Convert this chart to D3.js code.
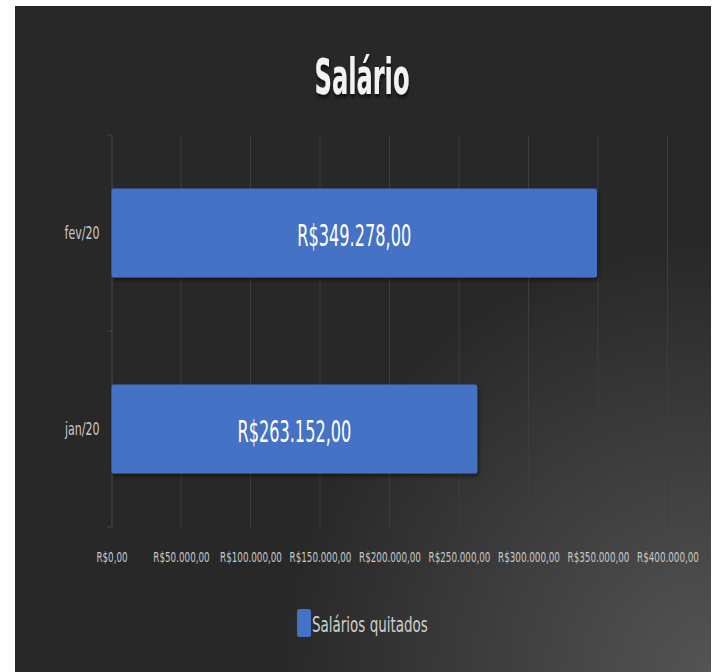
<!DOCTYPE html>
<html><head><meta charset="utf-8">
<script src="https://cdn.jsdelivr.net/npm/d3@7"></script>
<style>html,body{margin:0;padding:0;background:#fff;}svg{display:block;}</style>
</head><body>
<script>
const categories = ["fev/20", "jan/20"];
const values = [349278, 263152];
const valueLabels = ["R$349.278,00", "R$263.152,00"];
const tickValues = [0, 50000, 100000, 150000, 200000, 250000, 300000, 350000, 400000];
const tickLabels = ["R$0,00","R$50.000,00","R$100.000,00","R$150.000,00","R$200.000,00","R$250.000,00","R$300.000,00","R$350.000,00","R$400.000,00"];
const seriesName = "Salários quitados";
const title = "Salário";

const W = 717, H = 672;
const font = "'DejaVu Sans',sans-serif";
const svg = d3.select("body").append("svg").attr("width", W).attr("height", H);
const defs = svg.append("defs");
const grad = defs.append("radialGradient").attr("id","bg")
  .attr("gradientUnits","userSpaceOnUse").attr("cx",711).attr("cy",672).attr("r",430);
grad.append("stop").attr("offset","0").attr("stop-color","#545454");
grad.append("stop").attr("offset","1").attr("stop-color","#282828");
const sh = defs.append("filter").attr("id","sh").attr("x","-10%").attr("y","-10%").attr("width","130%").attr("height","140%");
sh.append("feDropShadow").attr("dx",1.5).attr("dy",2.5).attr("stdDeviation",2).attr("flood-color","#000").attr("flood-opacity",0.5);
const tsh = defs.append("filter").attr("id","tsh");
tsh.append("feDropShadow").attr("dx",1).attr("dy",3).attr("stdDeviation",2).attr("flood-color","#000").attr("flood-opacity",0.7);

// horizontally condense texts around their anchor x
function condense(sel, ratio) {
  sel.each(function() {
    const x0 = +(this.getAttribute("x") || 0);
    d3.select(this).attr("transform", `translate(${x0},0) scale(${ratio},1) translate(${-x0},0)`);
  });
}
function ratioFor(sel, refWidth) {
  let m = 0;
  sel.each(function() { m = Math.max(m, this.getComputedTextLength()); });
  return refWidth / m;
}

svg.append("rect").attr("x",15).attr("y",6).attr("width",696).attr("height",666).attr("fill","url(#bg)");

const x = d3.scaleLinear().domain([0, 400000]).range([111.5, 667.5]);
const y = d3.scaleBand().domain(categories).range([135, 527]).padding(0);
const barFrac = 0.455;

svg.append("g").selectAll("line").data(tickValues.slice(1)).join("line")
  .attr("x1", d => x(d)).attr("x2", d => x(d)).attr("y1", 135).attr("y2", 527)
  .attr("stroke", "#3d3d3d").attr("stroke-width", 1);

const yAxis = svg.append("g").attr("transform", `translate(${x(0)},0)`)
  .call(d3.axisLeft(y).tickSize(0).tickPadding(12));
yAxis.select(".domain").attr("stroke", "#4a4a4a");
const yt = yAxis.selectAll("text").attr("fill", "#c8c8c8").style("font-family", font).style("font-size", "18px");
condense(yt, ratioFor(yt, 35));
const bounds = [135, 331, 527];
svg.append("g").selectAll("line").data(bounds).join("line")
  .attr("x1", x(0) - 4).attr("x2", x(0)).attr("y1", d => d).attr("y2", d => d)
  .attr("stroke", "#4a4a4a");

svg.append("g").selectAll("rect").data(categories).join("rect")
  .attr("x", x(0))
  .attr("y", d => y(d) + y.bandwidth() * (1 - barFrac) / 2)
  .attr("width", (d, i) => x(values[i]) - x(0))
  .attr("height", y.bandwidth() * barFrac)
  .attr("rx", 2.5)
  .attr("fill", "#4472C4")
  .attr("filter", "url(#sh)");

const dl = svg.append("g").selectAll("text").data(categories).join("text")
  .attr("x", (d, i) => (x(0) + x(values[i])) / 2)
  .attr("y", d => y(d) + y.bandwidth() / 2 + 2)
  .attr("dy", "0.36em")
  .attr("text-anchor", "middle")
  .attr("fill", "#ffffff")
  .style("font-family", font).style("font-size", "31px")
  .text((d, i) => valueLabels[i]);
condense(dl, ratioFor(dl, 114));

const xAxis = svg.append("g").attr("transform", "translate(0,557)")
  .call(d3.axisBottom(x).tickValues(tickValues).tickSize(0).tickPadding(0).tickFormat((d, i) => tickLabels[i]));
xAxis.select(".domain").remove();
const xt = xAxis.selectAll("text").attr("fill", "#c8c8c8").attr("dy", "0.36em").attr("y", 0)
  .style("font-family", font).style("font-size", "14px");
condense(xt, ratioFor(xt, 62));

const tt = svg.append("text").attr("x", 362).attr("y", 76).attr("dy", "0.36em")
  .attr("text-anchor", "middle").attr("fill", "#f2f2f2")
  .attr("filter", "url(#tsh)")
  .style("font-family", font).style("font-size", "50px").style("font-weight", "bold")
  .text(title);
condense(tt, ratioFor(tt, 95));

const lg = svg.append("g");
lg.append("rect").attr("x", 297).attr("y", 609).attr("width", 14).attr("height", 28).attr("rx", 2.5).attr("fill", "#4472C4");
const lt = lg.append("text").attr("x", 312).attr("y", 624).attr("dy", "0.36em").attr("fill", "#d0d0d0")
  .style("font-family", font).style("font-size", "22px").text(seriesName);
condense(lt, ratioFor(lt, 116));
</script>
</body></html>
